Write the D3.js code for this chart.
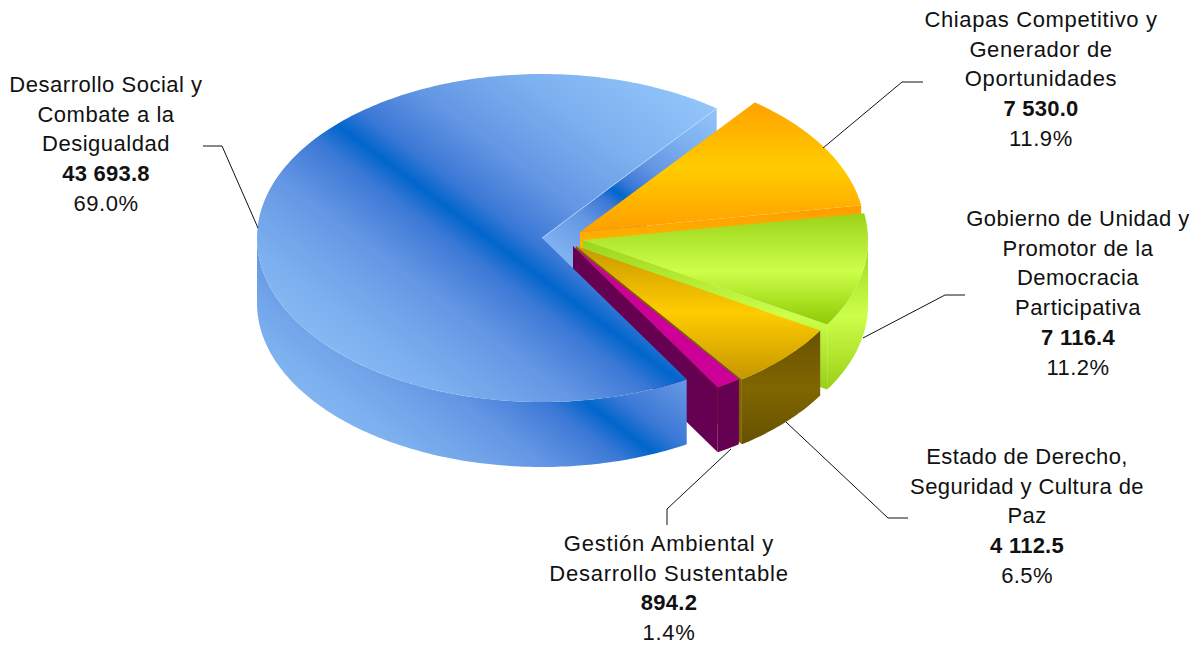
<!DOCTYPE html>
<html><head><meta charset="utf-8">
<script src="https://cdn.jsdelivr.net/npm/d3@7"></script>
<style>html,body{margin:0;padding:0;background:#fff}svg{display:block}
text{font-family:"Liberation Sans",Arial,sans-serif;font-size:22px;fill:#111;text-anchor:middle}
.v{font-weight:bold;letter-spacing:.25px}</style></head><body>
<svg id="c" width="1204" height="645"></svg>
<script>
// ---- data, in drawing order around the pie
const categories = [
  ["Chiapas Competitivo y","Generador de","Oportunidades"],
  ["Gobierno de Unidad y","Promotor de la","Democracia","Participativa"],
  ["Estado de Derecho,","Seguridad y Cultura de","Paz"],
  ["Gestión Ambiental y","Desarrollo Sustentable"],
  ["Desarrollo Social y","Combate a la","Desigualdad"]
];
const values = [7530.0, 7116.4, 4112.5, 894.2, 43693.8];
const valueLabels = ["7 530.0","7 116.4","4 112.5","894.2","43 693.8"];
const percentLabels = ["11.9%","11.2%","6.5%","1.4%","69.0%"];

// ---- layout
const W=1204,H=645, rx=285, ry=164, depth=65;
const firstAngle = 37.8*Math.PI/180;
const apexes = [[580,232],[583,240],[576,246],[573,246],[542,238]];
const labelCentres = [[1041,27],[1078,226],[1027,464],[669,551],[106,92]];
const labelSpacing = [.62,.47,.4,.77,.52];
const lineStep = 29.7;
const leaders = [
  [[923,82],[902,82],[823,148]],
  [[965,295],[945,295],[863,338]],
  [[908,518],[888,518],[786,422]],
  [[667,525],[667,509],[731,449]],
  [[203,146],[222,146],[258,228]]
];

const svg = d3.select("#c");
const defs = svg.append("defs");
const arcs = d3.pie().value(d=>d).sort(null).startAngle(firstAngle).endAngle(firstAngle+2*Math.PI)(values);

function grad(id,x1,y1,x2,y2,stops){
  const g=defs.append("linearGradient").attr("id",id).attr("gradientUnits","userSpaceOnUse")
    .attr("x1",x1).attr("y1",y1).attr("x2",x2).attr("y2",y2);
  stops.forEach(([o,c])=>g.append("stop").attr("offset",o).attr("stop-color",c));
}
const v3=(a,b,c)=>[[0,a],[.5,b],[1,c]];
grad("oTop",0,103,0,232,v3("#ffa200","#ffcc00","#ff9e00"));
grad("oWall",0,208,0,270,v3("#ff9e00","#ffb000","#ffcc00"));
grad("gTop",0,215,0,327,v3("#9cd41a","#ccff4a","#8cc800"));
grad("gWall",0,240,0,392,v3("#9ad41c","#ccff4a","#98cc14"));
grad("yTop",0,246,0,379,v3("#c89800","#ffcc00","#c69600"));
grad("yWall",0,333,0,445,v3("#6b5200","#806600","#665000"));
// blue: diagonal band with soft falloff
const blueStops=[[0,"#94c6fb"],[.2,"#7cafee"],[.34,"#6497e4"],[.4,"#4f86dc"],[.45,"#3a78d6"],[.5,"#0066cc"],[.55,"#3a78d6"],[.6,"#4f86dc"],[.66,"#6497e4"],[.8,"#7cafee"],[1,"#94c6fb"]];
const n=[.6,-.8];
function blueGrad(id,px,py,r){ grad(id,px-n[0]*r,py-n[1]*r,px+n[0]*r,py+n[1]*r,blueStops); }
blueGrad("bTop",340,127,245);
blueGrad("bWall",620,428,235);
blueGrad("bIn",618,193,130);

const line=d3.line();
const P=(c,a,r,dz=0)=>[c[0]+r*rx*Math.sin(a), c[1]-r*ry*Math.cos(a)+dz];
const sample=(a0,a1)=>{const k=Math.max(2,Math.ceil(Math.abs(a1-a0)*60));return d3.range(k+1).map(i=>a0+(a1-a0)*i/k);};
function topPath(c,s){ return line([c,...sample(s.startAngle,s.endAngle).map(a=>P(c,a,1))])+"Z"; }
function radialWall(c,a){ return line([c,P(c,a,1),P(c,a,1,depth),[c[0],c[1]+depth]])+"Z"; }
function outerWall(c,s){
  const a0=Math.max(s.startAngle,Math.PI/2), a1=Math.min(s.endAngle,1.5*Math.PI);
  if(a1<=a0) return null;
  const t=sample(a0,a1);
  return line([...t.map(a=>P(c,a,1)),...t.slice().reverse().map(a=>P(c,a,1,depth))])+"Z";
}
const draw=(d,f)=>{ if(d) svg.append("path").attr("d",d).attr("fill",f); };
const F=id=>`url(#${id})`;

const [O,G,Y,M,B]=[0,1,2,3,4];
// blue inner wall at the back
draw(radialWall(apexes[B],arcs[B].endAngle),F("bIn"));
// orange
draw(radialWall(apexes[O],arcs[O].endAngle),F("oWall"));
draw(topPath(apexes[O],arcs[O]),F("oTop"));
// green
draw(outerWall(apexes[G],arcs[G]),F("gWall"));
draw(radialWall(apexes[G],arcs[G].endAngle),F("gWall"));
draw(topPath(apexes[G],arcs[G]),F("gTop"));
// gold
draw(radialWall(apexes[Y],arcs[Y].endAngle),"#7f6200");
draw(outerWall(apexes[Y],arcs[Y]),F("yWall"));
draw(topPath(apexes[Y],arcs[Y]),F("yTop"));
// magenta
draw(radialWall(apexes[M],arcs[M].endAngle),"#660050");
draw(outerWall(apexes[M],arcs[M]),"#660050");
draw(topPath(apexes[M],arcs[M]),"#cc0099");
// blue body
draw(outerWall(apexes[B],arcs[B]),F("bWall"));
draw(topPath(apexes[B],arcs[B]),F("bTop"));
svg.append("path").attr("d",line([apexes[B],P(apexes[B],arcs[B].endAngle,1)]))
  .attr("stroke","#c4defc").attr("stroke-width",.7).attr("fill","none");

// leaders
leaders.forEach(l=>svg.append("path").attr("d",line(l)).attr("fill","none").attr("stroke","#111").attr("stroke-width",1));

// labels
categories.forEach((cat,i)=>{
  const t=svg.append("text").style("letter-spacing",labelSpacing[i]+"px");
  const [x,y]=labelCentres[i];
  const rows=[...cat.map(s=>[s,""]),[valueLabels[i],"v"],[percentLabels[i],""]];
  rows.forEach(([s,c],j)=>t.append("tspan").attr("x",x).attr("y",y+j*lineStep).attr("class",c).text(s));
});
</script></body></html>
